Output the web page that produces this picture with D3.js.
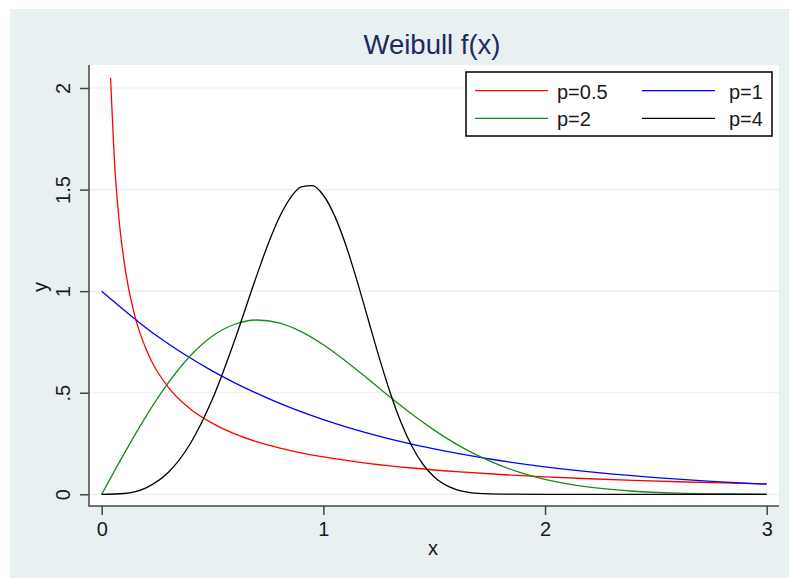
<!DOCTYPE html>
<html>
<head>
  <meta charset="utf-8">
  <title>Weibull f(x)</title>
  <script src="https://cdnjs.cloudflare.com/ajax/libs/d3/7.8.5/d3.min.js"></script>
  <style>
    body { margin: 0; background: #fff; }
    text { font-family: "Liberation Sans", Arial, sans-serif; }
  </style>
</head>
<body>
<script>
// valores
var xRed   = [0.04, 0.06, 0.08, 0.1, 0.15, 0.2, 0.3, 0.4, 0.5, 0.6, 0.7, 0.8, 0.9, 1.0, 1.2, 1.4, 1.6, 1.8, 2.0, 2.2, 2.4, 2.6, 2.8, 3.0];
var yRed   = [2.05, 1.598, 1.333, 1.153, 0.876, 0.715, 0.528, 0.420, 0.349, 0.2975, 0.2588, 0.2286, 0.2041, 0.1839, 0.1526, 0.1294, 0.1116, 0.0974, 0.0860, 0.0765, 0.0685, 0.0618, 0.0561, 0.0511];

var xBlue  = [0, 0.25, 0.5, 0.75, 1.0, 1.25, 1.5, 1.75, 2.0, 2.25, 2.5, 2.75, 3.0];
var yBlue  = [1, 0.7788, 0.6065, 0.4724, 0.3679, 0.2865, 0.2231, 0.1738, 0.1353, 0.1054, 0.0821, 0.0639, 0.0498];

var xGreen = [0, 0.1, 0.2, 0.3, 0.4, 0.5, 0.6, 0.7, 0.8, 0.9, 1.0, 1.1, 1.2, 1.3, 1.4, 1.5, 1.6, 1.7, 1.8, 1.9, 2.0, 2.2, 2.4, 2.6, 2.8, 3.0];
var yGreen = [0, 0.198, 0.384, 0.548, 0.682, 0.779, 0.837, 0.858, 0.844, 0.801, 0.736, 0.656, 0.569, 0.480, 0.394, 0.316, 0.247, 0.189, 0.141, 0.103, 0.073, 0.0348, 0.0151, 0.0060, 0.0022, 0.0007];

var xBlack = [0, 0.1, 0.2, 0.3, 0.4, 0.5, 0.6, 0.7, 0.75, 0.8, 0.85, 0.9, 0.95, 1.0, 1.05, 1.1, 1.15, 1.2, 1.25, 1.3, 1.35, 1.4, 1.45, 1.5, 1.6, 1.7, 1.8, 2.0, 2.5, 3.0];
var yBlack = [0, 0.004, 0.032, 0.107, 0.250, 0.470, 0.759, 1.079, 1.230, 1.360, 1.457, 1.513, 1.519, 1.472, 1.373, 1.231, 1.058, 0.869, 0.680, 0.505, 0.355, 0.2355, 0.1467, 0.0855, 0.0233, 0.0046, 0.0006, 0, 0, 0];

var seriesNames = ["p=0.5", "p=1", "p=2", "p=4"];
var xTicks = [0, 1, 2, 3];
var yTicks = [0, 0.5, 1, 1.5, 2];
var yTickLabels = ["0", ".5", "1", "1.5", "2"];

var width  = 789,
    height = 578;

var series = [
  { name: seriesNames[0], xs: xRed,   ys: yRed,   color: "#ff0000" },
  { name: seriesNames[1], xs: xBlue,  ys: yBlue,  color: "#0000ff" },
  { name: seriesNames[2], xs: xGreen, ys: yGreen, color: "#1a8a1a" },
  { name: seriesNames[3], xs: xBlack, ys: yBlack, color: "#000000" }
];

var svg = d3.select("body").append("svg").attr("width", width).attr("height", height);

// fondo gris-azulado estilo Stata
svg.append("rect").attr("x", 10).attr("y", 9).attr("width", width - 10).attr("height", height - 9)
   .attr("fill", "#e8f0f2");

var plot = { left: 89, top: 65, right: 779, bottom: 506 };

svg.append("rect")
   .attr("x", plot.left).attr("y", plot.top)
   .attr("width", plot.right - plot.left).attr("height", plot.bottom - plot.top)
   .attr("fill", "#fff");

var x = d3.scaleLinear().domain([0, 3]).range([101.7, 766.7]);
var y = d3.scaleLinear().domain([0, 2]).range([494.3, 88]);

// grilla
svg.append("g").selectAll("line").data(yTicks).enter().append("line")
   .attr("x1", plot.left + 1).attr("x2", plot.right)
   .attr("y1", function(d) { return y(d); }).attr("y2", function(d) { return y(d); })
   .attr("stroke", "#e6eff1").attr("stroke-width", 1.2);

// ejes
var yAxis = d3.axisLeft(y).tickValues(yTicks).tickSize(9).tickPadding(10)
   .tickFormat(function(d, i) { return yTickLabels[i]; });
var gy = svg.append("g").attr("transform", "translate(" + plot.left + ",0)").call(yAxis);
gy.select(".domain").remove();
gy.selectAll(".tick line").attr("stroke", "#444").attr("stroke-width", 1.5);
gy.selectAll(".tick text")
   .attr("font-size", 20).attr("fill", "#1a1a1a")
   .attr("x", null).attr("dy", null)
   .attr("text-anchor", "middle")
   .attr("transform", "translate(-19,0) rotate(-90)");

var xAxis = d3.axisBottom(x).tickValues(xTicks).tickSize(9).tickPadding(7)
   .tickFormat(d3.format("d"));
var gx = svg.append("g").attr("transform", "translate(0," + plot.bottom + ")").call(xAxis);
gx.select(".domain").remove();
gx.selectAll(".tick line").attr("stroke", "#444").attr("stroke-width", 1.5);
gx.selectAll(".tick text").attr("font-size", 20).attr("fill", "#1a1a1a");

svg.append("line").attr("x1", plot.left).attr("x2", plot.left)
   .attr("y1", plot.top).attr("y2", plot.bottom + 0.75)
   .attr("stroke", "#444").attr("stroke-width", 1.5);
svg.append("line").attr("x1", plot.left).attr("x2", plot.right)
   .attr("y1", plot.bottom).attr("y2", plot.bottom)
   .attr("stroke", "#444").attr("stroke-width", 1.5);

// curvas
var line = d3.line()
   .x(function(d) { return x(d[0]); })
   .y(function(d) { return y(d[1]); })
   .curve(d3.curveMonotoneX);

series.forEach(function(s) {
  var pts = s.xs.map(function(v, i) { return [v, s.ys[i]]; });
  svg.append("path").datum(pts)
     .attr("d", line)
     .attr("fill", "none")
     .attr("stroke", s.color)
     .attr("stroke-width", 1.3);
});

// titulos
svg.append("text").attr("x", 432).attr("y", 54).attr("text-anchor", "middle")
   .attr("font-size", 27.5).attr("fill", "#1e2b5c").text("Weibull f(x)");

svg.append("text").attr("x", 433).attr("y", 555).attr("text-anchor", "middle")
   .attr("font-size", 20).attr("fill", "#1a1a1a").text("x");

svg.append("text").attr("transform", "translate(47,287) rotate(-90)").attr("text-anchor", "middle")
   .attr("font-size", 20).attr("fill", "#1a1a1a").text("y");

// leyenda
var legend = svg.append("g");
legend.append("rect").attr("x", 466).attr("y", 72).attr("width", 306).attr("height", 64)
   .attr("fill", "#fff").attr("stroke", "#000").attr("stroke-width", 1.5);

var cols = [475, 642], rows = [90.7, 118.3];
series.forEach(function(s, i) {
  var cx = cols[i % 2], cy = rows[Math.floor(i / 2)];
  legend.append("line").attr("x1", cx).attr("x2", cx + 73)
     .attr("y1", cy).attr("y2", cy)
     .attr("stroke", s.color).attr("stroke-width", 1.3);
  legend.append("text").attr("x", cx + (i % 2 ? 87 : 82)).attr("y", cy + 8)
     .attr("font-size", 20).attr("fill", "#1a1a1a").text(s.name);
});
</script>
</body>
</html>
